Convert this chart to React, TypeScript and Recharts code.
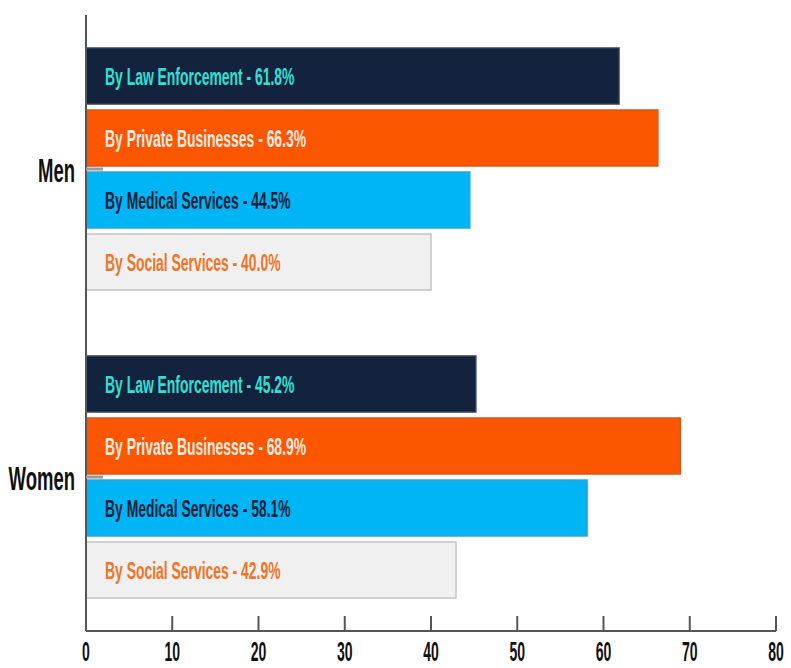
import React from "react";
import { Bar, BarChart, LabelList, XAxis, YAxis } from "recharts";

const groups = ["Men", "Women"];
const lawEnforcement = [61.8, 45.2];
const privateBusinesses = [66.3, 68.9];
const medicalServices = [44.5, 58.1];
const socialServices = [40.0, 42.9];
const xTicks = [0, 10, 20, 30, 40, 50, 60, 70, 80];

const data = groups.map((g, i) => ({
  group: g,
  law: lawEnforcement[i],
  priv: privateBusinesses[i],
  med: medicalServices[i],
  social: socialServices[i],
}));

const series = [
  { key: "law", label: "By Law Enforcement", fill: "#13233d", stroke: "#34435a", text: "#2fe0d6" },
  { key: "priv", label: "By Private Businesses", fill: "#fd5601", stroke: "#d8561a", text: "#f8ebe2" },
  { key: "med", label: "By Medical Services", fill: "#00b5f6", stroke: "#2aa6d6", text: "#10213a" },
  { key: "social", label: "By Social Services", fill: "#f0f0f0", stroke: "#c4c4c4", text: "#f07425" },
];

const FONT = "'Liberation Sans', Arial, sans-serif";

function XTick({ x, y, payload }: any) {
  return (
    <g>
      <line x1={x} x2={x} y1={y} y2={y - 15} stroke="#555" strokeWidth={2} />
      <g transform={`translate(${x},${y + 30})`}>
        <text
          textAnchor="middle"
          transform="scale(0.5,1)"
          fontSize={28}
          fontWeight="bold"
          fontFamily={FONT}
          fill="#111"
        >
          {payload.value}
        </text>
      </g>
    </g>
  );
}

function YTick({ x, y, payload }: any) {
  return (
    <g>
      <line x1={x} x2={x + 17} y1={y} y2={y} stroke="#999" strokeWidth={3} />
      <g transform={`translate(${x - 11},${y + 13})`}>
        <text
          textAnchor="end"
          transform="scale(0.56,1)"
          fontSize={33}
          fontWeight="bold"
          fontFamily={FONT}
          fill="#111"
        >
          {payload.value}
        </text>
      </g>
    </g>
  );
}

function makeLabel(label: string, color: string) {
  return (props: any) => {
    const x = Number(props.x);
    const y = Number(props.y);
    const h = Number(props.height);
    return (
      <g transform={`translate(${x + 19},${y + h / 2 + 8.5})`}>
        <text
          transform="scale(0.58,1)"
          fontSize={24}
          fontWeight="bold"
          fontFamily={FONT}
          fill={color}
        >
          {`${label} - ${Number(props.value).toFixed(1)}%`}
        </text>
      </g>
    );
  };
}

export default function App() {
  return (
    <div style={{ position: "absolute", left: 0, top: 0, background: "#fff" }}>
      <BarChart
        width={791}
        height={668}
        data={data}
        layout="vertical"
        margin={{ top: 15, right: 15, bottom: 0, left: 0 }}
        barCategoryGap={33}
        barGap={6}
      >
        <XAxis
          type="number"
          domain={[0, 80]}
          ticks={xTicks}
          height={37}
          tickLine={false}
          tickSize={0}
          tickMargin={0}
          axisLine={{ stroke: "#555", strokeWidth: 2 }}
          tick={<XTick />}
          interval={0}
        />
        <YAxis
          type="category"
          dataKey="group"
          width={86}
          tickLine={false}
          tickSize={0}
          tickMargin={0}
          axisLine={{ stroke: "#555", strokeWidth: 2 }}
          tick={<YTick />}
        />
        {series.map((s) => (
          <Bar
            key={s.key}
            dataKey={s.key}
            fill={s.fill}
            stroke={s.stroke}
            strokeWidth={1.5}
            isAnimationActive={false}
          >
            <LabelList dataKey={s.key} content={makeLabel(s.label, s.text)} />
          </Bar>
        ))}
      </BarChart>
    </div>
  );
}
